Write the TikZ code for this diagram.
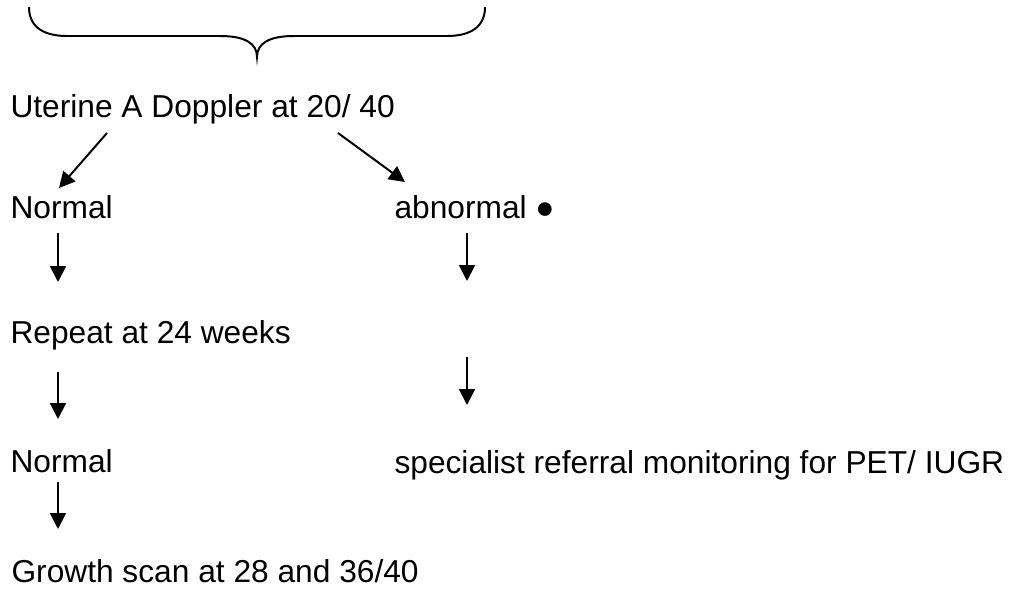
\documentclass[tikz,border=0pt]{standalone}
\usepackage{fontspec}
\setmainfont{Liberation Sans}
\usetikzlibrary{arrows.meta}

\tikzset{
	txt/.style={anchor=base west, inner sep=0pt, font=\fontsize{12}{14}\selectfont},
	arr/.style={line width=0.75pt, -{Triangle[length=6pt, width=6pt]}}
}

\begin{document}
\begin{tikzpicture}[x=0.3785pt, y=-0.3785pt]
	
	\useasboundingbox (0,0) rectangle (1014,589);
	
	% brace on top
	\draw[line width=0.75pt] (29,7) .. controls (29,28) and (45,36) .. (67,36) -- (220,36)
		.. controls (246,36) and (257,44) .. (257,57)
		.. controls (257,44) and (268,36) .. (294,36) -- (447,36)
		.. controls (469,36) and (485,28) .. (485,7);
	
	\node[txt] (uta) at (10,117) {Uterine A Doppler at 20/ 40};
	\node[txt] (norm1) at (10,218) {Normal};
	\node[txt] (abn) at (394,218) {abnormal ●};
	\node[txt] (rep) at (10,343) {Repeat at 24 weeks};
	\node[txt] (norm2) at (10,472) {Normal};
	\node[txt] (spec) at (394,473) {specialist referral monitoring for PET/ IUGR};
	\node[txt] (grow) at (11,582) {Growth scan at 28 and 36/40};
	
	\coordinate (d1) at (107,133);
	\coordinate (d2) at (59,188);
	\coordinate (d3) at (338,133);
	\coordinate (d4) at (405,182);
	\coordinate (l1) at (58,233);
	\coordinate (l2) at (58,282);
	\coordinate (l3) at (58,372);
	\coordinate (l4) at (58,419);
	\coordinate (l5) at (58,482);
	\coordinate (l6) at (58,529);
	\coordinate (r1) at (467,233);
	\coordinate (r2) at (467,281);
	\coordinate (r3) at (467,357);
	\coordinate (r4) at (467,405);
	
	\draw[arr] (d1) -- (d2);
	\draw[arr] (d3) -- (d4);
	\draw[arr] (l1) -- (l2);
	\draw[arr] (l3) -- (l4);
	\draw[arr] (l5) -- (l6);
	\draw[arr] (r1) -- (r2);
	\draw[arr] (r3) -- (r4);
	
\end{tikzpicture}
\end{document}
